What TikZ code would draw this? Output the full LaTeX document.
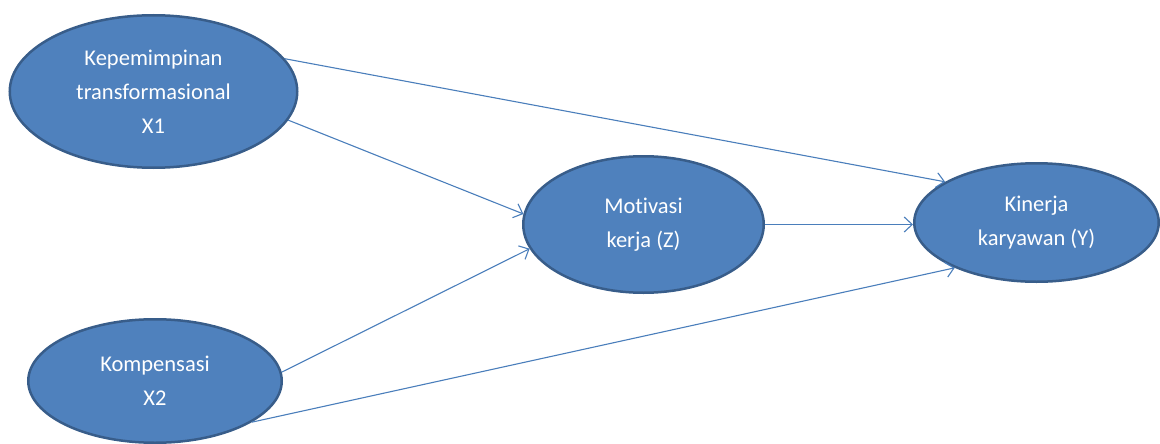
\documentclass[tikz,border=0pt]{standalone}
\usepackage{fontspec}
\setmainfont{Carlito}[Ligatures=NoCommon]
\usetikzlibrary{shapes.geometric,arrows.meta}
\definecolor{ellfill}{HTML}{4F81BD}
\definecolor{elldraw}{HTML}{385D8A}
\definecolor{arrcol}{HTML}{4A7EBB}
\begin{document}
\begin{tikzpicture}[x=1pt,y=-1pt,
  ellnode/.style={ellipse, draw=elldraw, fill=ellfill, line width=2.5pt,
    inner sep=0pt, text=white, align=center,
    font=\fontsize{22.5}{34}\selectfont},
  conn/.style={draw=arrcol, line width=1.1pt,
    -{Straight Barb[length=8pt,width=15pt,line width=1.1pt]}}]
\useasboundingbox (0,0) rectangle (1160,444);
\node[ellnode, minimum width=287.5pt, minimum height=152.5pt] (X1) at (153.5,91.5)
  {Kepemimpinan\\transformasional\\X1};
\node[ellnode, minimum width=240.5pt, minimum height=136.5pt] (Z) at (643.5,224.5)
  {Motivasi\\kerja (Z)};
\node[ellnode, minimum width=244.5pt, minimum height=118.5pt] (Y) at (1036.5,222.5)
  {Kinerja\\karyawan (Y)};
\node[ellnode, minimum width=253.5pt, minimum height=123.5pt] (X2) at (155,381)
  {Kompensasi\\X2};
\draw[conn] (X1.14) -- (Y.156.6);
\draw[conn] (X1.-12.6) -- (Z.175.6);
\draw[conn] (X2.4.9) -- (Z.-168);
\draw[conn] (X2.-23) -- (Y.-151);
\draw[conn] (Z.east) -- (Z.east -| Y.west);
\end{tikzpicture}
\end{document}
